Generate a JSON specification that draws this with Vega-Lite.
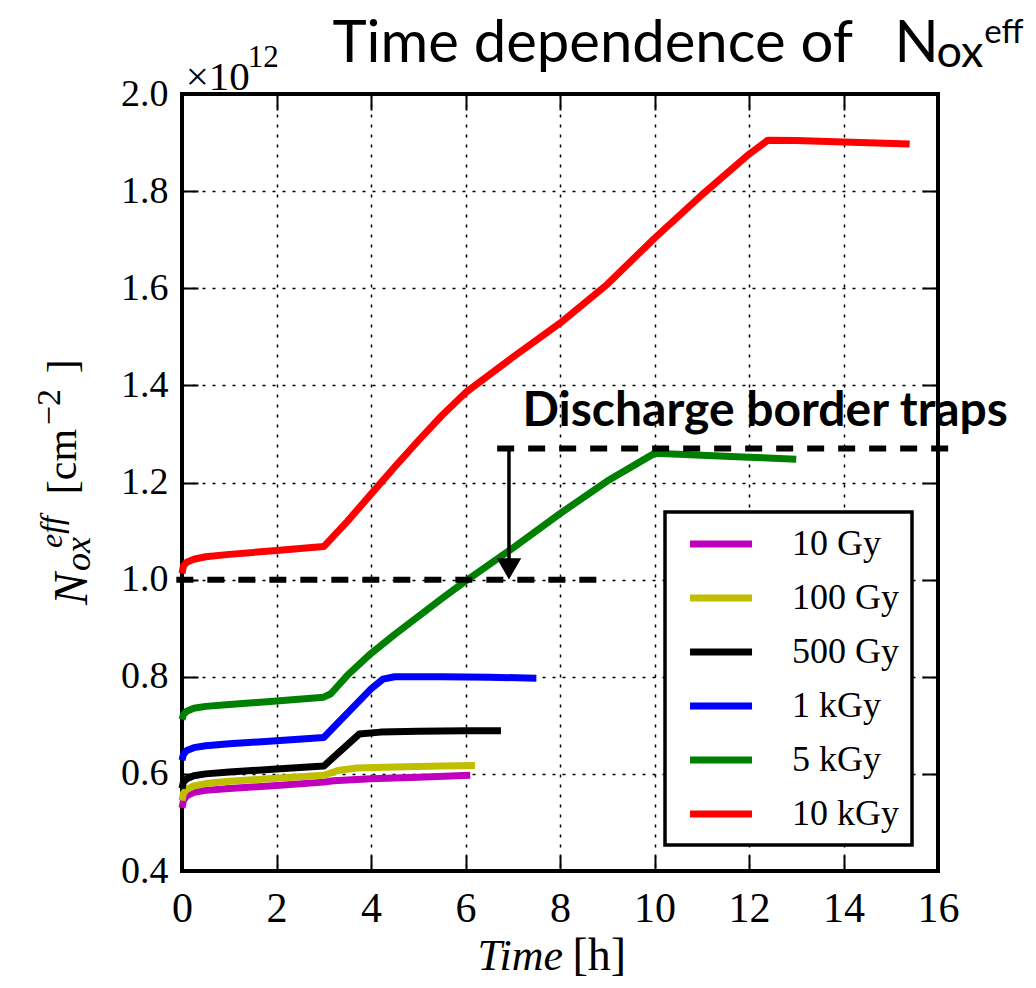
{
  "$schema": "https://vega.github.io/schema/vega-lite/v6.json",
  "width": 756,
  "height": 777,
  "autosize": {"type": "none"},
  "padding": {"left": 182, "top": 94, "right": 98, "bottom": 117},
  "background": "white",
  "config": {
    "view": {"stroke": "black", "strokeWidth": 4},
    "legend": {"strokeWidth": 3.5}
  },
  "data": {"values": [{}]},
  "datasets": {
    "series": [
      {"dose": "10 Gy", "t": 0, "n": 0.53}, {"dose": "10 Gy", "t": 0.03, "n": 0.545}, {"dose": "10 Gy", "t": 0.1, "n": 0.555}, {"dose": "10 Gy", "t": 0.25, "n": 0.562}, {"dose": "10 Gy", "t": 0.5, "n": 0.566}, {"dose": "10 Gy", "t": 1, "n": 0.57}, {"dose": "10 Gy", "t": 2, "n": 0.576}, {"dose": "10 Gy", "t": 3, "n": 0.583}, {"dose": "10 Gy", "t": 3.2, "n": 0.586}, {"dose": "10 Gy", "t": 4, "n": 0.59}, {"dose": "10 Gy", "t": 5, "n": 0.593}, {"dose": "10 Gy", "t": 6.1, "n": 0.597},
      {"dose": "100 Gy", "t": 0, "n": 0.545}, {"dose": "100 Gy", "t": 0.03, "n": 0.56}, {"dose": "100 Gy", "t": 0.1, "n": 0.568}, {"dose": "100 Gy", "t": 0.25, "n": 0.575}, {"dose": "100 Gy", "t": 0.5, "n": 0.58}, {"dose": "100 Gy", "t": 1, "n": 0.585}, {"dose": "100 Gy", "t": 2, "n": 0.591}, {"dose": "100 Gy", "t": 3, "n": 0.597}, {"dose": "100 Gy", "t": 3.3, "n": 0.607}, {"dose": "100 Gy", "t": 3.7, "n": 0.612}, {"dose": "100 Gy", "t": 4.5, "n": 0.614}, {"dose": "100 Gy", "t": 5.5, "n": 0.616}, {"dose": "100 Gy", "t": 6.2, "n": 0.617},
      {"dose": "500 Gy", "t": 0, "n": 0.57}, {"dose": "500 Gy", "t": 0.03, "n": 0.583}, {"dose": "500 Gy", "t": 0.1, "n": 0.59}, {"dose": "500 Gy", "t": 0.25, "n": 0.596}, {"dose": "500 Gy", "t": 0.5, "n": 0.6}, {"dose": "500 Gy", "t": 1, "n": 0.604}, {"dose": "500 Gy", "t": 2, "n": 0.61}, {"dose": "500 Gy", "t": 3, "n": 0.616}, {"dose": "500 Gy", "t": 3.75, "n": 0.682}, {"dose": "500 Gy", "t": 4.2, "n": 0.686}, {"dose": "500 Gy", "t": 5, "n": 0.688}, {"dose": "500 Gy", "t": 6, "n": 0.689}, {"dose": "500 Gy", "t": 6.75, "n": 0.689},
      {"dose": "1 kGy", "t": 0, "n": 0.628}, {"dose": "1 kGy", "t": 0.03, "n": 0.64}, {"dose": "1 kGy", "t": 0.1, "n": 0.648}, {"dose": "1 kGy", "t": 0.25, "n": 0.654}, {"dose": "1 kGy", "t": 0.5, "n": 0.658}, {"dose": "1 kGy", "t": 1, "n": 0.662}, {"dose": "1 kGy", "t": 2, "n": 0.668}, {"dose": "1 kGy", "t": 3, "n": 0.675}, {"dose": "1 kGy", "t": 3.5, "n": 0.725}, {"dose": "1 kGy", "t": 4.0, "n": 0.775}, {"dose": "1 kGy", "t": 4.25, "n": 0.795}, {"dose": "1 kGy", "t": 4.5, "n": 0.8}, {"dose": "1 kGy", "t": 5.5, "n": 0.8}, {"dose": "1 kGy", "t": 6.5, "n": 0.799}, {"dose": "1 kGy", "t": 7.5, "n": 0.797},
      {"dose": "5 kGy", "t": 0, "n": 0.712}, {"dose": "5 kGy", "t": 0.03, "n": 0.722}, {"dose": "5 kGy", "t": 0.1, "n": 0.729}, {"dose": "5 kGy", "t": 0.25, "n": 0.735}, {"dose": "5 kGy", "t": 0.5, "n": 0.739}, {"dose": "5 kGy", "t": 1, "n": 0.743}, {"dose": "5 kGy", "t": 2, "n": 0.75}, {"dose": "5 kGy", "t": 3, "n": 0.758}, {"dose": "5 kGy", "t": 3.15, "n": 0.765}, {"dose": "5 kGy", "t": 3.5, "n": 0.803}, {"dose": "5 kGy", "t": 4, "n": 0.848}, {"dose": "5 kGy", "t": 4.5, "n": 0.887}, {"dose": "5 kGy", "t": 5, "n": 0.924}, {"dose": "5 kGy", "t": 5.5, "n": 0.961}, {"dose": "5 kGy", "t": 6, "n": 0.997}, {"dose": "5 kGy", "t": 7, "n": 1.065}, {"dose": "5 kGy", "t": 8, "n": 1.136}, {"dose": "5 kGy", "t": 9, "n": 1.203}, {"dose": "5 kGy", "t": 10, "n": 1.26}, {"dose": "5 kGy", "t": 11, "n": 1.256}, {"dose": "5 kGy", "t": 12, "n": 1.252}, {"dose": "5 kGy", "t": 13, "n": 1.248},
      {"dose": "10 kGy", "t": 0, "n": 1.013}, {"dose": "10 kGy", "t": 0.03, "n": 1.028}, {"dose": "10 kGy", "t": 0.1, "n": 1.036}, {"dose": "10 kGy", "t": 0.25, "n": 1.042}, {"dose": "10 kGy", "t": 0.5, "n": 1.047}, {"dose": "10 kGy", "t": 1, "n": 1.052}, {"dose": "10 kGy", "t": 2, "n": 1.06}, {"dose": "10 kGy", "t": 3, "n": 1.068}, {"dose": "10 kGy", "t": 3.5, "n": 1.12}, {"dose": "10 kGy", "t": 4, "n": 1.176}, {"dose": "10 kGy", "t": 4.5, "n": 1.232}, {"dose": "10 kGy", "t": 5, "n": 1.286}, {"dose": "10 kGy", "t": 5.5, "n": 1.338}, {"dose": "10 kGy", "t": 6, "n": 1.385}, {"dose": "10 kGy", "t": 7, "n": 1.458}, {"dose": "10 kGy", "t": 8, "n": 1.528}, {"dose": "10 kGy", "t": 9, "n": 1.608}, {"dose": "10 kGy", "t": 10, "n": 1.703}, {"dose": "10 kGy", "t": 11, "n": 1.792}, {"dose": "10 kGy", "t": 12, "n": 1.876}, {"dose": "10 kGy", "t": 12.4, "n": 1.905}, {"dose": "10 kGy", "t": 13, "n": 1.904}, {"dose": "10 kGy", "t": 14, "n": 1.901}, {"dose": "10 kGy", "t": 15.4, "n": 1.897}
    ]
  },
  "resolve": {"axis": {"x": "independent", "y": "independent"}},
  "layer": [
    {
      "data": {"name": "series"},
      "mark": {"type": "line", "strokeWidth": 7, "strokeJoin": "round"},
      "encoding": {
        "x": {
          "field": "t", "type": "quantitative",
          "scale": {"domain": [0, 16], "nice": false, "zero": false},
          "axis": {
            "orient": "bottom", "values": [0, 2, 4, 6, 8, 10, 12, 14, 16], "title": null,
            "domain": false, "grid": true, "gridColor": "black", "gridDash": [3, 7], "gridWidth": 1.5, "gridOpacity": 1,
            "tickSize": -16, "tickWidth": 2, "tickColor": "black",
            "labelFont": "Liberation Serif", "labelFontSize": 42, "labelColor": "black", "labelPadding": 33,
            "labelFlush": false, "labelOverlap": false, "labelBound": false
          }
        },
        "y": {
          "field": "n", "type": "quantitative",
          "scale": {"domain": [0.4, 2.0], "nice": false, "zero": false},
          "axis": {
            "orient": "left", "values": [0.4, 0.6, 0.8, 1.0, 1.2, 1.4, 1.6, 1.8, 2.0], "format": ".1f", "title": null,
            "domain": false, "grid": true, "gridColor": "black", "gridDash": [3, 7], "gridWidth": 1.5, "gridOpacity": 1,
            "tickSize": -16, "tickWidth": 2, "tickColor": "black",
            "labelFont": "Liberation Serif", "labelFontSize": 38, "labelColor": "black", "labelPadding": 30,
            "labelFlush": false, "labelOverlap": false, "labelBound": false
          }
        },
        "color": {
          "field": "dose", "type": "nominal",
          "scale": {"domain": ["10 Gy", "100 Gy", "500 Gy", "1 kGy", "5 kGy", "10 kGy"], "range": ["#bf00bf", "#bfbf00", "#000000", "#0000ff", "#008000", "#ff0000"]},
          "legend": {
            "title": null, "orient": "none", "legendX": 483, "legendY": 418,
            "strokeColor": "black", "fillColor": "white", "padding": 13,
            "symbolType": "M-0.45,0H3.55", "symbolSize": 961, "symbolStrokeWidth": 7, "symbolOffset": 0,
            "labelFont": "Liberation Serif", "labelFontSize": 36, "labelColor": "black", "labelOffset": 76,
            "rowPadding": 17
          }
        }
      }
    },
    {
      "mark": {"type": "rule", "strokeWidth": 6, "strokeDash": [17, 14], "color": "black"},
      "encoding": {
        "x": {"datum": 6.67, "type": "quantitative", "axis": {"orient": "top", "labels": false, "grid": false, "domain": false, "title": null, "values": [0, 2, 4, 6, 8, 10, 12, 14, 16], "tickSize": -16, "tickWidth": 2, "tickColor": "black"}},
        "x2": {"datum": 16.25},
        "y": {"datum": 1.27, "type": "quantitative", "axis": {"orient": "right", "labels": false, "grid": false, "domain": false, "title": null, "values": [0.4, 0.6, 0.8, 1.0, 1.2, 1.4, 1.6, 1.8, 2.0], "tickSize": -16, "tickWidth": 2, "tickColor": "black"}}
      }
    },
    {
      "mark": {"type": "rule", "strokeWidth": 6, "strokeDash": [17, 14], "color": "black"},
      "encoding": {
        "x": {"datum": -0.12, "type": "quantitative", "axis": null},
        "x2": {"datum": 9.0},
        "y": {"datum": 1.0, "type": "quantitative", "axis": null}
      }
    },
    {
      "mark": {"type": "rule", "strokeWidth": 3.5, "color": "black"},
      "encoding": {
        "x": {"datum": 6.92, "type": "quantitative", "axis": null},
        "y": {"datum": 1.27, "type": "quantitative", "axis": null},
        "y2": {"datum": 1.04}
      }
    },
    {
      "mark": {"type": "point", "shape": "triangle-down", "size": 600, "filled": true, "color": "black", "opacity": 1},
      "encoding": {
        "x": {"datum": 6.92, "type": "quantitative", "axis": null},
        "y": {"datum": 1.022, "type": "quantitative", "axis": null}
      }
    },
    {
      "mark": {"type": "text", "text": "Discharge border traps", "font": "Lato", "fontWeight": "bold", "fontSize": 48, "align": "left", "baseline": "alphabetic", "color": "black"},
      "encoding": {"x": {"datum": 7.206, "type": "quantitative", "axis": null}, "y": {"datum": 1.316, "type": "quantitative", "axis": null}}
    },
    {
      "mark": {"type": "text", "text": "Time dependence of", "font": "Lato", "fontSize": 58, "align": "left", "baseline": "alphabetic", "color": "black"},
      "encoding": {"x": {"datum": 3.185, "type": "quantitative", "axis": null}, "y": {"datum": 2.066, "type": "quantitative", "axis": null}}
    },
    {
      "mark": {"type": "text", "text": "N", "font": "Lato", "fontSize": 58, "align": "left", "baseline": "alphabetic", "color": "black"},
      "encoding": {"x": {"datum": 15.08, "type": "quantitative", "axis": null}, "y": {"datum": 2.066, "type": "quantitative", "axis": null}}
    },
    {
      "mark": {"type": "text", "text": "ox", "font": "Lato", "fontSize": 45, "align": "left", "baseline": "alphabetic", "color": "black"},
      "encoding": {"x": {"datum": 15.97, "type": "quantitative", "axis": null}, "y": {"datum": 2.056, "type": "quantitative", "axis": null}}
    },
    {
      "mark": {"type": "text", "text": "eff", "font": "Lato", "fontSize": 33, "align": "left", "baseline": "alphabetic", "color": "black"},
      "encoding": {"x": {"datum": 16.98, "type": "quantitative", "axis": null}, "y": {"datum": 2.104, "type": "quantitative", "axis": null}}
    },
    {
      "mark": {"type": "text", "text": "×10", "font": "Liberation Serif", "fontSize": 41, "align": "left", "baseline": "alphabetic", "color": "black"},
      "encoding": {"x": {"datum": 0.078, "type": "quantitative", "axis": null}, "y": {"datum": 2.008, "type": "quantitative", "axis": null}}
    },
    {
      "mark": {"type": "text", "text": "12", "font": "Liberation Serif", "fontSize": 31, "align": "left", "baseline": "alphabetic", "color": "black"},
      "encoding": {"x": {"datum": 1.39, "type": "quantitative", "axis": null}, "y": {"datum": 2.056, "type": "quantitative", "axis": null}}
    },
    {
      "mark": {"type": "text", "text": "Time", "font": "Liberation Serif", "fontStyle": "italic", "fontSize": 44, "align": "left", "baseline": "alphabetic", "color": "black"},
      "encoding": {"x": {"datum": 6.254, "type": "quantitative", "axis": null}, "y": {"datum": 0.196, "type": "quantitative", "axis": null}}
    },
    {
      "mark": {"type": "text", "text": "[h]", "font": "Liberation Serif", "fontSize": 46, "align": "left", "baseline": "alphabetic", "color": "black"},
      "encoding": {"x": {"datum": 8.265, "type": "quantitative", "axis": null}, "y": {"datum": 0.196, "type": "quantitative", "axis": null}}
    },
    {
      "mark": {"type": "text", "text": "N", "font": "Liberation Serif", "fontStyle": "italic", "fontSize": 48, "angle": 270, "align": "left", "baseline": "alphabetic", "color": "black"},
      "encoding": {"x": {"datum": -2.021, "type": "quantitative", "axis": null}, "y": {"datum": 0.948, "type": "quantitative", "axis": null}}
    },
    {
      "mark": {"type": "text", "text": "ox", "font": "Liberation Serif", "fontStyle": "italic", "fontSize": 36, "angle": 270, "align": "left", "baseline": "alphabetic", "color": "black"},
      "encoding": {"x": {"datum": -1.937, "type": "quantitative", "axis": null}, "y": {"datum": 1.018, "type": "quantitative", "axis": null}}
    },
    {
      "mark": {"type": "text", "text": "eff", "font": "Liberation Serif", "fontStyle": "italic", "fontSize": 32, "angle": 270, "align": "left", "baseline": "alphabetic", "color": "black"},
      "encoding": {"x": {"datum": -2.53, "type": "quantitative", "axis": null}, "y": {"datum": 1.065, "type": "quantitative", "axis": null}}
    },
    {
      "mark": {"type": "text", "text": "[cm", "font": "Liberation Serif", "fontSize": 42, "angle": 270, "align": "left", "baseline": "alphabetic", "color": "black"},
      "encoding": {"x": {"datum": -2.233, "type": "quantitative", "axis": null}, "y": {"datum": 1.176, "type": "quantitative", "axis": null}}
    },
    {
      "mark": {"type": "text", "text": "−2", "font": "Liberation Serif", "fontSize": 34, "angle": 270, "align": "left", "baseline": "alphabetic", "color": "black"},
      "encoding": {"x": {"datum": -2.59, "type": "quantitative", "axis": null}, "y": {"datum": 1.318, "type": "quantitative", "axis": null}}
    },
    {
      "mark": {"type": "text", "text": "]", "font": "Liberation Serif", "fontSize": 42, "angle": 270, "align": "left", "baseline": "alphabetic", "color": "black"},
      "encoding": {"x": {"datum": -2.233, "type": "quantitative", "axis": null}, "y": {"datum": 1.425, "type": "quantitative", "axis": null}}
    }
  ]
}
